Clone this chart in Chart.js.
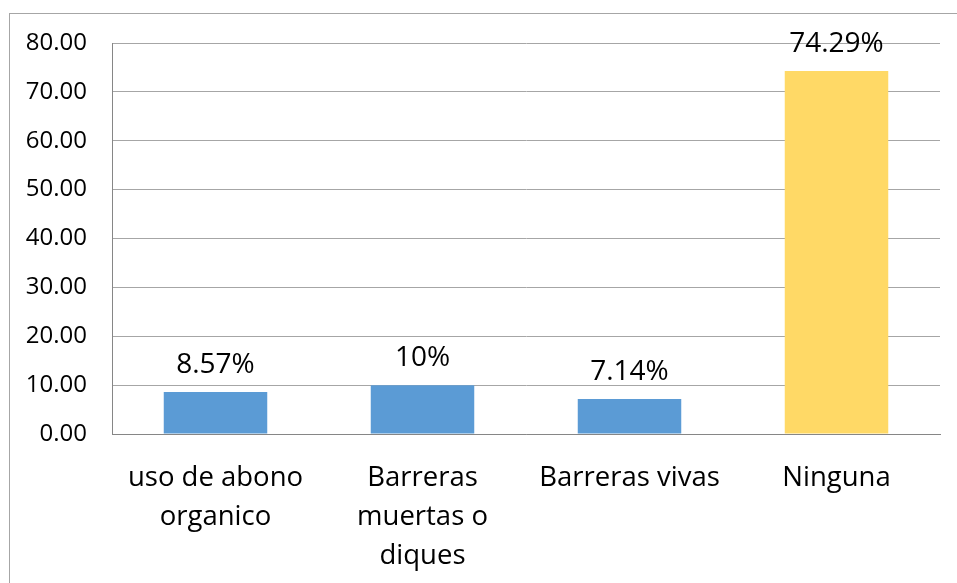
<!DOCTYPE html>
<html>
<head>
<meta charset="utf-8">
<script src="https://cdn.jsdelivr.net/npm/chart.js@4/dist/chart.umd.min.js"></script>
<style>
  html, body { margin: 0; padding: 0; background: #fff; }
  #wrap { width: 957px; height: 583px; }
</style>
</head>
<body>
<div id="wrap"><canvas id="chart_practicas" width="957" height="583"></canvas></div>
<script>
// data
var categories = [
  ['uso de abono', 'organico'],
  ['Barreras', 'muertas o', 'diques'],
  'Barreras vivas',
  'Ninguna'
];
var percentValues = [8.57, 10, 7.14, 74.29];
var barColors = ['#5B9BD5', '#5B9BD5', '#5B9BD5', '#FFD966'];
var yTicks = [0, 10, 20, 30, 40, 50, 60, 70, 80];

var fontFamily = '"Open Sans", "Noto Sans", sans-serif';

// border round the whole chart, cut off at right and bottom like the picture
var frameBorder = {
  id: 'frameBorder',
  afterDraw: function(chart) {
    var c = chart.ctx;
    c.save();
    c.strokeStyle = '#A6A6A6';
    c.lineWidth = 1;
    c.strokeRect(9.5, 13.5, 1200, 1200);
    c.restore();
  }
};

// value labels on top of each bar
var barLabels = {
  id: 'barLabels',
  afterDatasetsDraw: function(chart) {
    var c = chart.ctx;
    var meta = chart.getDatasetMeta(0);
    c.save();
    c.font = '28px ' + fontFamily;
    c.fillStyle = '#000';
    c.textAlign = 'center';
    c.textBaseline = 'alphabetic';
    meta.data.forEach(function(bar, i) {
      var txt = Number(percentValues[i].toFixed(2)) + '%';
      c.fillText(txt, bar.x, bar.y - 19);
    });
    c.restore();
  }
};

var ctx = document.getElementById('chart_practicas').getContext('2d');
new Chart(ctx, {
  type: 'bar',
  data: {
    labels: categories,
    datasets: [{
      data: percentValues,
      backgroundColor: barColors,
      borderWidth: 0,
      categoryPercentage: 1,
      barPercentage: 0.5
    }]
  },
  options: {
    responsive: false,
    animation: false,
    layout: {
      padding: { left: 0, top: 43, right: 17, bottom: 0 }
    },
    plugins: {
      legend: { display: false },
      tooltip: { enabled: false }
    },
    scales: {
      x: {
        grid: { display: false, drawTicks: false },
        border: { color: '#868686', width: 1 },
        ticks: {
          color: '#000',
          padding: 25,
          maxRotation: 0,
          autoSkip: false,
          font: { family: fontFamily, size: 27.5, lineHeight: '39px' }
        },
        afterFit: function(scale) { scale.height = 149; }
      },
      y: {
        min: 0,
        max: 80,
        afterBuildTicks: function(scale) {
          scale.ticks = yTicks.map(function(v) { return { value: v }; });
        },
        grid: { color: '#A6A6A6', drawTicks: false },
        border: { color: '#868686', width: 1 },
        ticks: {
          color: '#000',
          padding: 25,
          font: { family: fontFamily, size: 24 },
          callback: function(v) { return Number(v).toFixed(2); }
        },
        afterFit: function(scale) { scale.width = 112; }
      }
    }
  },
  plugins: [frameBorder, barLabels]
});
</script>
</body>
</html>
